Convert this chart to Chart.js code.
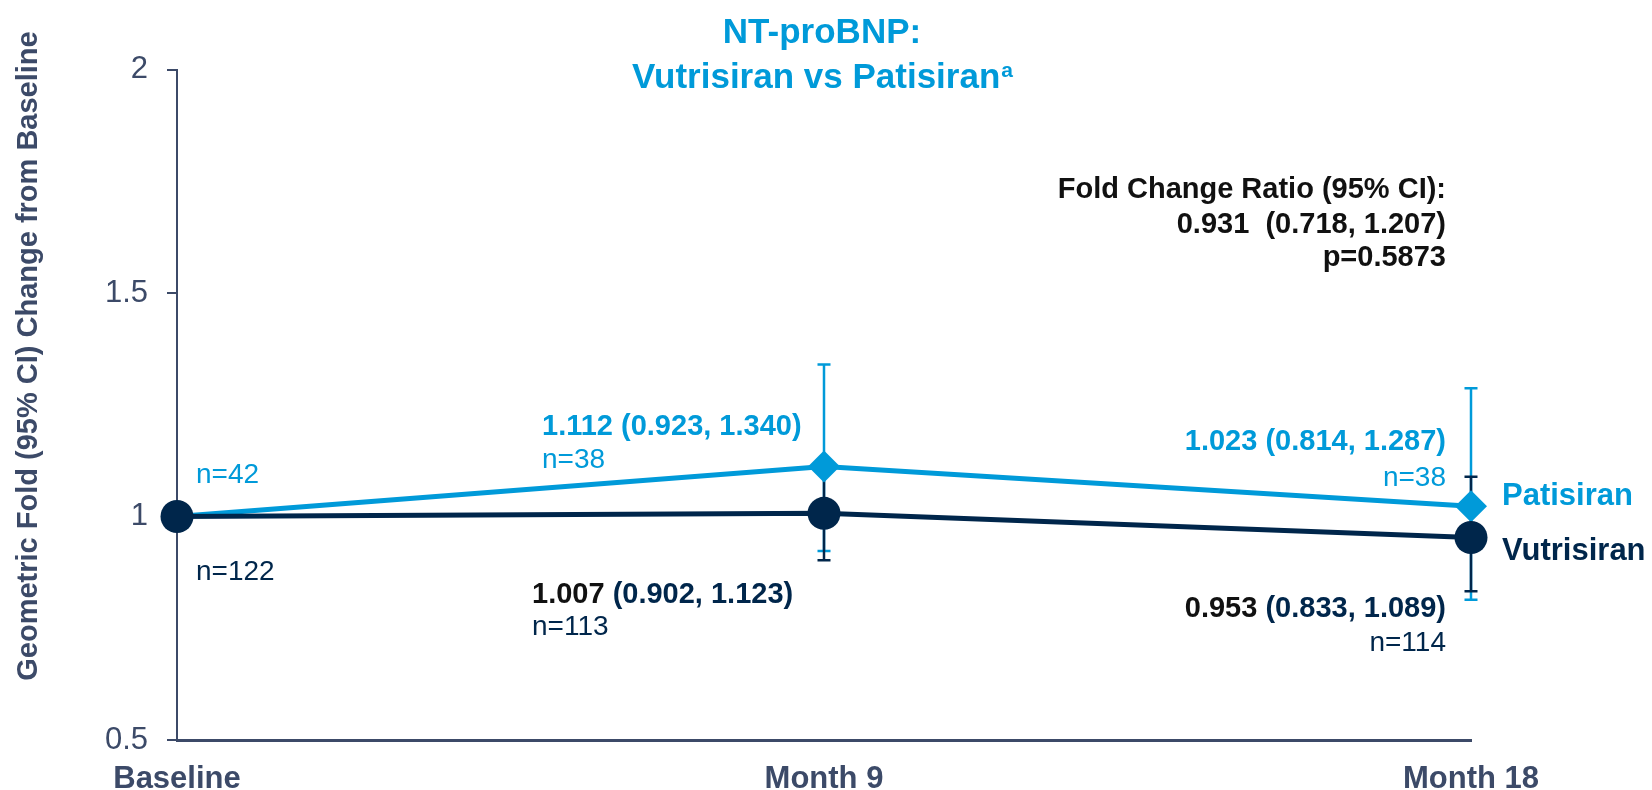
<!DOCTYPE html>
<html>
<head>
<meta charset="utf-8">
<script src="https://cdn.jsdelivr.net/npm/chart.js@4.4.1/dist/chart.umd.min.js"></script>
<style>
  body { margin: 0; background: #fff; }
  #wrap { width: 1652px; height: 790px; position: relative; }
</style>
</head>
<body>
<div id="wrap"><canvas id="myChart"></canvas></div>
<script>
// values
const categories = ['Baseline', 'Month 9', 'Month 18'];
const vutrisiranMean = [1, 1.007, 0.953];
const vutrisiranLow  = [null, 0.902, 0.833];
const vutrisiranHigh = [null, 1.123, 1.089];
const vutrisiranN    = [122, 113, 114];
const patisiranMean  = [1, 1.112, 1.023];
const patisiranLow   = [null, 0.923, 0.814];
const patisiranHigh  = [null, 1.340, 1.287];
const patisiranN     = [42, 38, 38];
const yTicks = [0.5, 1, 1.5, 2];
const foldRatio = [0.931, 0.718, 1.207];
const pValue = '0.5873';

const BLUE = '#009ad9';
const NAVY = '#00264b';
const AXIS = '#3c4a68';
const BLACK = '#111111';
const FONT = '"Liberation Sans", Arial, sans-serif';

function f3(v) { return v.toFixed(3); }

function drawText(ctx, str, x, y, font, color, align) {
  ctx.font = font;
  ctx.fillStyle = color;
  ctx.textAlign = align || 'left';
  ctx.textBaseline = 'alphabetic';
  ctx.fillText(str, x, y);
}

// value label with the mean in one colour and the CI in another
function drawValue(ctx, mean, lo, hi, x, y, meanColor, ciColor, align) {
  const font = 'bold 29px ' + FONT;
  ctx.font = font;
  const a = f3(mean), b = ' (' + f3(lo) + ', ' + f3(hi) + ')';
  if (align === 'right') {
    const wb = ctx.measureText(b).width;
    drawText(ctx, b, x, y, font, ciColor, 'right');
    drawText(ctx, a, x - wb, y, font, meanColor, 'right');
  } else {
    const wa = ctx.measureText(a).width;
    drawText(ctx, a, x, y, font, meanColor, 'left');
    drawText(ctx, b, x + wa, y, font, ciColor, 'left');
  }
}

const errorBars = {
  id: 'errorBars',
  beforeDatasetsDraw(chart) {
    const ctx = chart.ctx, xs = chart.scales.x, ys = chart.scales.y;
    const sets = [[patisiranLow, patisiranHigh, BLUE], [vutrisiranLow, vutrisiranHigh, NAVY]];
    ctx.save();
    ctx.lineWidth = 2.5;
    sets.forEach(function (s) {
      for (let i = 0; i < categories.length; i++) {
        if (s[0][i] == null) continue;
        const px = xs.getPixelForValue(i);
        const top = ys.getPixelForValue(s[1][i]);
        const bot = ys.getPixelForValue(s[0][i]);
        ctx.strokeStyle = s[2];
        ctx.beginPath();
        ctx.moveTo(px, top); ctx.lineTo(px, bot);
        ctx.moveTo(px - 6.5, top); ctx.lineTo(px + 6.5, top);
        ctx.moveTo(px - 6.5, bot); ctx.lineTo(px + 6.5, bot);
        ctx.stroke();
      }
    });
    ctx.restore();
  }
};

const labels = {
  id: 'labels',
  afterDraw(chart) {
    const ctx = chart.ctx, xs = chart.scales.x, ys = chart.scales.y;
    const area = chart.chartArea;
    const x0 = xs.getPixelForValue(0), x1 = xs.getPixelForValue(1), x2 = xs.getPixelForValue(2);
    const y1 = ys.getPixelForValue(1);
    const nFont = '28px ' + FONT;
    ctx.save();

    // title
    const cx = (area.left + area.right) / 2 - 2;
    const tFont = 'bold 35px ' + FONT;
    drawText(ctx, 'NT-proBNP:', cx, 43, tFont, BLUE, 'center');
    ctx.font = tFont;
    const main = 'Vutrisiran vs Patisiran';
    const wMain = ctx.measureText(main).width;
    ctx.font = 'bold 21px ' + FONT;
    const wSup = ctx.measureText('a').width;
    const start = cx - (wMain + wSup) / 2;
    drawText(ctx, main, start, 88, tFont, BLUE, 'left');
    drawText(ctx, 'a', start + wMain + 1, 77, 'bold 21px ' + FONT, BLUE, 'left');

    // y axis title
    ctx.save();
    ctx.translate(37, 356);
    ctx.rotate(-Math.PI / 2);
    drawText(ctx, 'Geometric Fold (95% CI) Change from Baseline', 0, 0, 'bold 29px ' + FONT, AXIS, 'center');
    ctx.restore();

    // baseline n
    drawText(ctx, 'n=' + patisiranN[0], x0 + 19, y1 - 33.5, nFont, BLUE);
    drawText(ctx, 'n=' + vutrisiranN[0], x0 + 19, y1 + 63.5, nFont, NAVY);

    // month 9
    drawValue(ctx, patisiranMean[1], patisiranLow[1], patisiranHigh[1], x1 - 282, y1 - 81.5, BLUE, BLUE, 'left');
    drawText(ctx, 'n=' + patisiranN[1], x1 - 282, y1 - 48.5, nFont, BLUE);
    drawValue(ctx, vutrisiranMean[1], vutrisiranLow[1], vutrisiranHigh[1], x1 - 292, y1 + 86.5, BLACK, NAVY, 'left');
    drawText(ctx, 'n=' + vutrisiranN[1], x1 - 292, y1 + 118.5, nFont, NAVY);

    // month 18
    drawValue(ctx, patisiranMean[2], patisiranLow[2], patisiranHigh[2], x2 - 25, y1 - 66.5, BLUE, BLUE, 'right');
    drawText(ctx, 'n=' + patisiranN[2], x2 - 25, y1 - 30.5, nFont, BLUE, 'right');
    drawValue(ctx, vutrisiranMean[2], vutrisiranLow[2], vutrisiranHigh[2], x2 - 25, y1 + 100.5, BLACK, NAVY, 'right');
    drawText(ctx, 'n=' + vutrisiranN[2], x2 - 25, y1 + 134.5, nFont, NAVY, 'right');

    // series names
    drawText(ctx, 'Patisiran', x2 + 31, y1 - 11.5, 'bold 31px ' + FONT, BLUE);
    drawText(ctx, 'Vutrisiran', x2 + 31, y1 + 43.5, 'bold 31px ' + FONT, NAVY);

    // fold change ratio block
    const bFont = 'bold 29px ' + FONT;
    drawText(ctx, 'Fold Change Ratio (95% CI):', x2 - 25, y1 - 318.5, bFont, BLACK, 'right');
    drawText(ctx, f3(foldRatio[0]) + '  (' + f3(foldRatio[1]) + ', ' + f3(foldRatio[2]) + ')', x2 - 25, y1 - 283.5, bFont, BLACK, 'right');
    drawText(ctx, 'p=' + pValue, x2 - 25, y1 - 250.5, bFont, BLACK, 'right');

    ctx.restore();
  }
};

const data = {
  labels: categories,
  datasets: [
    {
      label: 'Vutrisiran',
      data: vutrisiranMean,
      borderColor: NAVY,
      backgroundColor: NAVY,
      borderWidth: 5,
      pointStyle: 'circle',
      pointRadius: 16.5,
      pointBorderWidth: 0,
      pointBackgroundColor: NAVY,
      tension: 0,
      clip: false
    },
    {
      label: 'Patisiran',
      data: patisiranMean,
      borderColor: BLUE,
      backgroundColor: BLUE,
      borderWidth: 5,
      pointStyle: 'rectRot',
      pointRadius: [0, 16, 16],
      pointBorderWidth: 0,
      pointBackgroundColor: BLUE,
      tension: 0,
      clip: false
    }
  ]
};

const config = {
  type: 'line',
  data: data,
  options: {
    responsive: true,
    maintainAspectRatio: false,
    animation: false,
    events: [],
    layout: { padding: { top: 69.5, right: 181, left: 0, bottom: 0 } },
    plugins: {
      legend: { display: false },
      title: { display: false },
      tooltip: { enabled: false }
    },
    scales: {
      x: {
        type: 'category',
        offset: false,
        grid: { display: false },
        border: { display: true, color: AXIS, width: 3 },
        ticks: {
          color: AXIS,
          padding: 13,
          maxRotation: 0,
          autoSkip: false,
          font: { family: FONT, size: 31, weight: 'bold' }
        },
        afterFit(scale) { scale.height = 50; }
      },
      y: {
        min: 0.5,
        max: 2,
        afterBuildTicks(scale) { scale.ticks = yTicks.map(function (v) { return { value: v }; }); },
        grid: { drawOnChartArea: false, drawTicks: true, tickLength: 10, color: AXIS, lineWidth: 2 },
        border: { display: true, color: AXIS, width: 2 },
        ticks: {
          color: AXIS,
          padding: 19,
          font: { family: FONT, size: 31 },
          callback: function (v) { return String(v); }
        },
        afterFit(scale) { scale.width = 177; }
      }
    }
  },
  plugins: [errorBars, labels]
};

const myChart = new Chart(document.getElementById('myChart'), config);
</script>
</body>
</html>
